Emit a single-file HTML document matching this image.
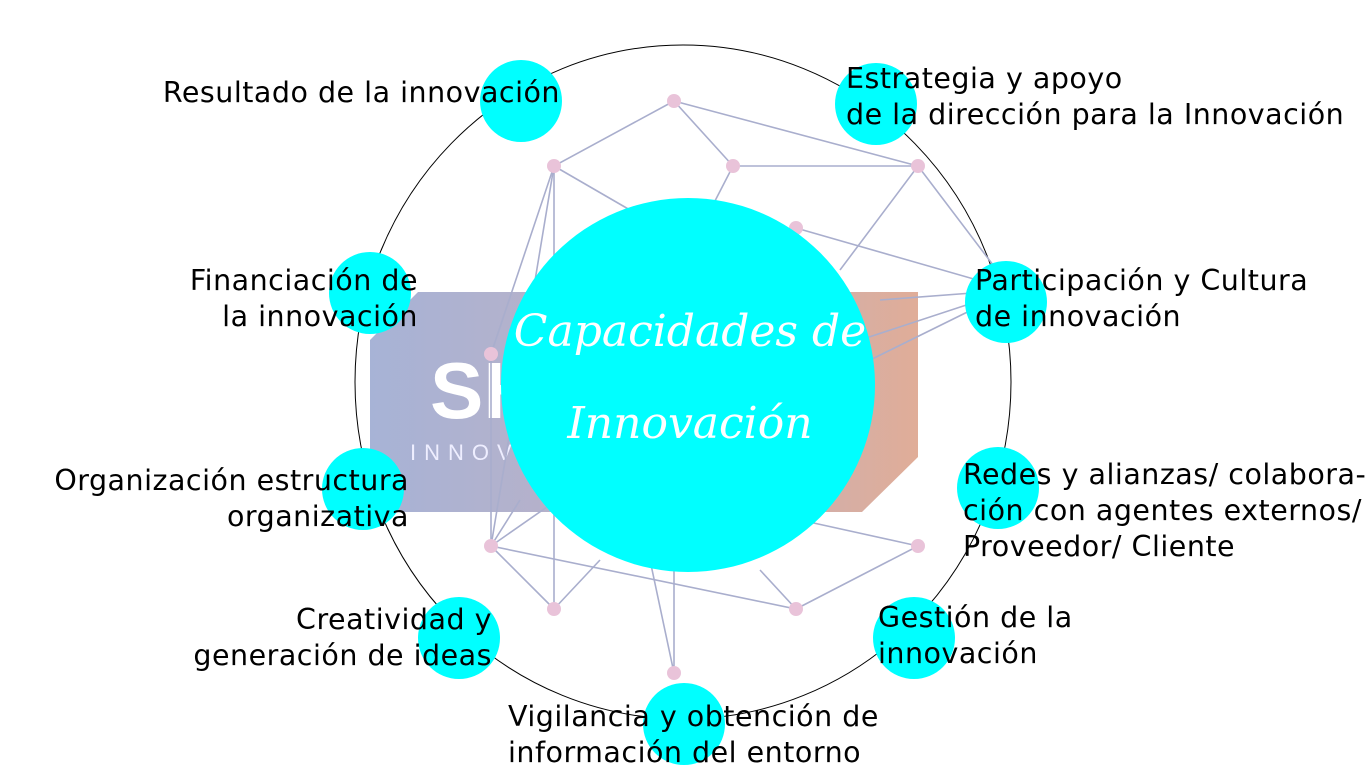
<!DOCTYPE html>
<html><head><meta charset="utf-8"><style>
html,body{margin:0;padding:0;background:#fff;width:1366px;height:768px;overflow:hidden;position:relative;font-family:"DejaVu Sans","Liberation Sans",sans-serif;}
.t{position:absolute;font-size:28.5px;line-height:36px;color:#000;white-space:nowrap;letter-spacing:0.5px;font-weight:400}
.r{text-align:right}
svg{position:absolute;left:0;top:0}
</style></head><body>
<svg width="1366" height="768">
<defs>
<linearGradient id="g" x1="0" x2="1" y1="0" y2="0">
<stop offset="0" stop-color="#a7b3d6"/><stop offset="0.5" stop-color="#bdb0c4"/><stop offset="1" stop-color="#e0ad98"/>
</linearGradient>
</defs>
<polygon points="418,292 918,292 918,457 862,512 370,512 370,340" fill="url(#g)"/>
<text x="430" y="418" font-family="Liberation Sans" font-weight="bold" font-size="80" fill="#fff">SH</text>
<text x="410" y="460" font-family="Liberation Sans" font-size="22" letter-spacing="8" fill="#eef">INNOVA</text>
<text x="845" y="460" font-family="Liberation Sans" font-size="22" fill="#eee">O</text>
<ellipse cx="683" cy="382" rx="328" ry="337" fill="none" stroke="#000" stroke-width="1"/>
<g stroke="#a9aecd" stroke-width="1.6" fill="none">
<path d="M674,101 L554,166 L491,354 L491,546 L554,609"/>
<path d="M674,101 L733,166 L918,166 L674,101"/>
<path d="M733,166 L700,230"/>
<path d="M554,166 L630,210"/>
<path d="M918,166 L1012,290 L796,228"/>
<path d="M918,166 L840,270"/>
<path d="M1012,290 L860,340 M1012,290 L860,365 M1012,290 L880,300"/>
<path d="M554,166 L491,546 L600,470 M491,546 L520,500"/>
<path d="M491,546 L796,609 L918,546 L800,520"/>
<path d="M554,609 L600,560"/>
<path d="M674,673 L674,560 M674,673 L650,560"/>
<path d="M796,609 L760,570"/>
<path d="M554,166 L554,609"/>
</g>
<g fill="#e9c3d9">
<circle cx="674" cy="101" r="7"/><circle cx="554" cy="166" r="7"/><circle cx="733" cy="166" r="7"/><circle cx="918" cy="166" r="7"/>
<circle cx="796" cy="228" r="7"/><circle cx="491" cy="354" r="7"/><circle cx="491" cy="546" r="7"/><circle cx="554" cy="609" r="7"/>
<circle cx="796" cy="609" r="7"/><circle cx="918" cy="546" r="7"/><circle cx="674" cy="673" r="7"/>
</g>
<circle cx="688" cy="385" r="187" fill="#00ffff"/>
<g fill="#00ffff">
<circle cx="521" cy="101" r="41"/><circle cx="876" cy="104" r="41"/>
<circle cx="370" cy="293" r="41"/><circle cx="1006" cy="302" r="41"/>
<circle cx="998" cy="488" r="41"/><circle cx="363" cy="489" r="41"/>
<circle cx="459" cy="638" r="41"/><circle cx="914" cy="638" r="41"/>
<circle cx="684" cy="724" r="41"/>
</g>
<text x="690" y="346" text-anchor="middle" font-family="DejaVu Serif" font-style="italic" font-size="44" fill="#fff">Capacidades de</text>
<text x="690" y="438" text-anchor="middle" font-family="DejaVu Serif" font-style="italic" font-size="44" fill="#fff">Innovación</text>
</svg>
<div class="t r" style="right:806px;top:75px">Resultado de la innovación</div>
<div class="t" style="left:846px;top:61px">Estrategia y apoyo<br>de la dirección para la Innovación</div>
<div class="t r" style="right:948px;top:263px">Financiación de<br>la innovación</div>
<div class="t" style="left:975px;top:263px">Participación y Cultura<br>de innovación</div>
<div class="t" style="left:963px;top:457px">Redes y alianzas/ colabora-<br>ción con agentes externos/<br>Proveedor/ Cliente</div>
<div class="t r" style="right:957px;top:463px">Organización estructura<br>organizativa</div>
<div class="t r" style="right:874px;top:602px">Creatividad y<br>generación de ideas</div>
<div class="t" style="left:878px;top:600px">Gestión de la<br>innovación</div>
<div class="t" style="left:508px;top:699px">Vigilancia y obtención de<br>información del entorno</div>
</body></html>
